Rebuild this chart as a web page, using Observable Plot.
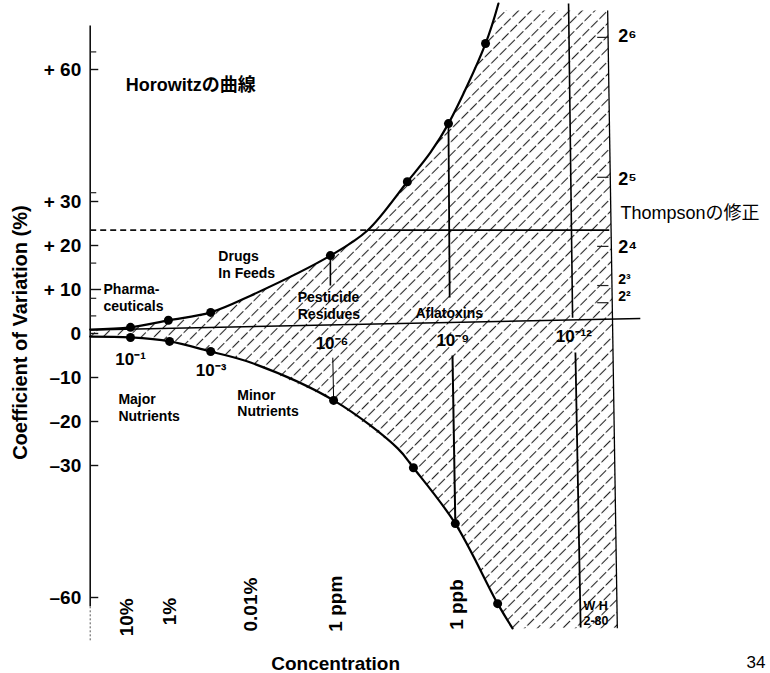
<!DOCTYPE html>
<html>
<head>
<meta charset="utf-8">
<script src="https://cdn.jsdelivr.net/npm/d3@7"></script>
<script src="https://cdn.jsdelivr.net/npm/@observablehq/plot@0.6"></script>
<style>
  html, body { margin: 0; padding: 0; background: #fff; }
  svg { display: block; }
</style>
</head>
<body>
<div id="chart"></div>
<script>
// ---- Data (x = exponent n of concentration 10^-n, y = coefficient of variation %) ----
const upperExp = [0, 1.0, 1.94, 2.99, 3.98, 5.96, 6.88, 7.87, 8.44, 8.89, 9.81, 10.13];
const upperCV  = [0.9, 1.4, 3.0, 4.8, 8.6, 17.7, 23.4, 34.5, 41.1, 47.7, 65.9, 75];
const upperIsDot = [0, 1, 1, 1, 0, 1, 0, 1, 0, 1, 1, 0];

const lowerExp = [0, 1.0, 1.97, 2.99, 3.98, 6.04, 7.63, 8.02, 9.06, 10.11, 10.48];
const lowerCV  = [-0.7, -0.9, -1.8, -4.1, -6.6, -15.2, -26.1, -30.5, -43.2, -61.4, -67.0];
const lowerIsDot = [0, 1, 1, 1, 0, 1, 0, 1, 1, 1, 0];

const thompsonCV = 23.5;          // Thompson's modification level
const thompsonStartExp = 6.88;    // where it meets the Horwitz curve
const boundaryExp = [12.84, 13.08]; // right limit (top, bottom)
const boundaryCV = [73.4, -67.0];
const baselineExp = [0, 13.65];
const baselineCV = [0.8, 3.4];

const yTickValues = [60, 30, 20, 10, 0, -10, -20, -30, -60];
const yTickLabels = ["+ 60", "+ 30", "+ 20", "+ 10", "0", "–10", "–20", "–30", "–60"];
const yMinorTicks = [64, 32, 16, 8, 4];

const xTickExp = [1, 3, 6, 9, 12];
const xTickLabels = ["10⁻¹", "10⁻³", "10⁻⁶", "10⁻⁹", "10⁻¹²"];
const xTickLabelCV = [-5.9, -8.4, -2.3, -1.6, -0.7];

const concExp = [0.9, 1.99, 4.0, 6.09, 9.09];
const concLabels = ["10%", "1%", "0.01%", "1 ppm", "1 ppb"];
const concLabelCV = [-64.5, -63.2, -61.6, -61.4, -61.6];

const rightTickCV = [67.3, 35.5, 19.8, 10.9, 7.0];
const rightLabelCV = [67.5, 35.0, 19.5, 12.3, 8.4];
const rightLabels = ["2⁶", "2⁵", "2⁴", "2³", "2²"];

const categories = [
  {text: "Pharma-\nceuticals", e: 0.33, cv: 8.2},
  {text: "Drugs\nIn Feeds", e: 3.18, cv: 15.8},
  {text: "Pesticide\nResidues", e: 5.15, cv: 6.4},
  {text: "Aflatoxins", e: 8.07, cv: 4.8},
  {text: "Major\nNutrients", e: 0.70, cv: -16.8},
  {text: "Minor\nNutrients", e: 3.65, cv: -15.7}
];

// ---- Build tables ----
const upper = upperExp.map((e, i) => ({e, cv: upperCV[i], dot: upperIsDot[i]}));
const lower = lowerExp.map((e, i) => ({e, cv: lowerCV[i], dot: lowerIsDot[i]}));
const hatchPoly = [
  ...upper.slice(0, -1),
  {e: 10.10, cv: boundaryCV[0]},
  {e: boundaryExp[0], cv: boundaryCV[0]},
  {e: boundaryExp[1], cv: boundaryCV[1]},
  ...lower.slice().reverse()
];

const upperAt = e => upper.find(d => d.e === e);
const lowerAt = e => lower.find(d => d.e === e);

const segments = [
  {x1: 5.96, y1: upperAt(5.96).cv, x2: 5.96, y2: 10.9, w: 1.6},
  {x1: 6.02, y1: -5.5, x2: 6.04, y2: lowerAt(6.04).cv, w: 1},
  {x1: 8.89, y1: upperAt(8.89).cv, x2: 8.92, y2: 8.2, w: 1.8},
  {x1: 8.99, y1: -5.0, x2: 9.06, y2: lowerAt(9.06).cv, w: 2},
  {x1: 11.87, y1: 75, x2: 11.97, y2: 3.6, w: 1.6},
  {x1: 12.04, y1: -4.3, x2: 12.17, y2: -66.8, w: 1.8},
  {x1: boundaryExp[0], y1: boundaryCV[0], x2: boundaryExp[1], y2: boundaryCV[1], w: 1.3},
  {x1: thompsonStartExp, y1: thompsonCV, x2: 12.88, y2: thompsonCV, w: 1.8},
  {x1: baselineExp[0], y1: baselineCV[0], x2: baselineExp[1], y2: baselineCV[1], w: 1.5}
];

const latin = "'Liberation Sans', Arial, 'Noto Sans CJK JP', sans-serif";

const chart = Plot.plot({
  width: 770,
  height: 673,
  marginLeft: 89.7,
  marginRight: 770 - 89.7 - 40.3 * 13.2,
  marginTop: 3,
  marginBottom: 32,
  x: {domain: [0, 13.2], axis: null},
  y: {domain: [-70, 75], axis: null},
  style: {background: "#fff", color: "#000", fontFamily: latin, overflow: "visible"},
  marks: [
    // hatched region between the curves
    Plot.line(hatchPoly, {x: "e", y: "cv", fill: "url(#hatch)", stroke: "none"}),
    // left axis
    Plot.link([0], {x1: 0, x2: 0, y1: 70, y2: -62, stroke: "#111", strokeWidth: 1.6}),
    Plot.link([0], {x1: 0, x2: 0, y1: -62, y2: -70, stroke: "#555", strokeWidth: 1, strokeDasharray: "2 2"}),
    Plot.link(yTickValues, {x1: 0, x2: d => d === 10 ? 0.27 : 0.2, y1: d => d, y2: d => d, stroke: "#111", strokeWidth: 1.4}),
    Plot.link(yMinorTicks, {x1: 0, x2: 0.15, y1: d => d, y2: d => d, stroke: "#222", strokeWidth: 1.2}),
    Plot.text(yTickValues, {x: 0, y: d => d, text: (d, i) => yTickLabels[i], dx: -9, textAnchor: "end",
      fontSize: 19, fontWeight: "bold"}),
    // Thompson dashed part
    Plot.link([0], {x1: 0, x2: thompsonStartExp, y1: thompsonCV, y2: thompsonCV, stroke: "#111",
      strokeWidth: 1.6, strokeDasharray: "6 4"}),
    // straight segments
    Plot.link(segments, {x1: "x1", y1: "y1", x2: "x2", y2: "y2", stroke: "#000", strokeWidth: "w"}),
    // right-side ticks
    Plot.link(rightTickCV, {x1: 12.58, x2: 12.86, y1: d => d, y2: d => d, stroke: "#222", strokeWidth: 1.2}),
    // Horwitz curves
    Plot.line(upper, {x: "e", y: "cv", curve: "catmull-rom", stroke: "#000", strokeWidth: 2.2}),
    Plot.line(lower, {x: "e", y: "cv", curve: "catmull-rom", stroke: "#000", strokeWidth: 2.2}),
    Plot.dot(upper.filter(d => d.dot), {x: "e", y: "cv", r: 4.5, fill: "#000"}),
    Plot.dot(lower.filter(d => d.dot), {x: "e", y: "cv", r: 4.5, fill: "#000"}),
    // concentration exponent labels
    Plot.text(xTickExp, {x: d => d, y: (d, i) => xTickLabelCV[i], text: (d, i) => xTickLabels[i],
      fontSize: 17, fontWeight: "bold"}),
    // category labels
    Plot.text(categories, {x: "e", y: "cv", text: "text", textAnchor: "start", lineHeight: 1.2,
      fontSize: 14, fontWeight: "bold"}),
    // vertical concentration labels
    Plot.text(concExp, {x: d => d, y: (d, i) => concLabelCV[i], text: (d, i) => concLabels[i],
      rotate: -90, fontSize: 19, fontWeight: "bold"}),
    // right labels
    Plot.text(rightLabelCV, {x: 13.1, y: d => d, text: (d, i) => rightLabels[i], textAnchor: "start",
      fontSize: (d, i) => i >= 3 ? 14 : 18, fontWeight: "bold"}),
    Plot.text(["W H\n2-80"], {x: 12.24, y: -63.4, textAnchor: "start", fontSize: 12.5, fontWeight: "bold", lineHeight: 1.2}),
    // titles and annotations
    Plot.text(["Horowitzの曲線"], {x: 0.88, y: 56.4, textAnchor: "start", fontSize: 18, fontWeight: "bold"}),
    Plot.text(["Thompsonの修正"], {x: 13.16, y: 27.3, textAnchor: "start", fontSize: 18}),
    Plot.text(["Coefficient of Variation (%)"], {x: -1.73, y: 0.2, rotate: -90, fontSize: 20, fontWeight: "bold"}),
    Plot.text(["Concentration"], {x: 6.09, y: -75, fontSize: 19, fontWeight: "bold"}),
    Plot.text(["34"], {x: 16.52, y: -74.7, fontSize: 17})
  ]
});

const ns = "http://www.w3.org/2000/svg";
const defs = document.createElementNS(ns, "defs");
const pattern = document.createElementNS(ns, "pattern");
pattern.setAttribute("id", "hatch");
pattern.setAttribute("patternUnits", "userSpaceOnUse");
pattern.setAttribute("width", "9");
pattern.setAttribute("height", "12");
pattern.setAttribute("patternTransform", "rotate(45)");
const hl = document.createElementNS(ns, "line");
hl.setAttribute("x1", "4.5"); hl.setAttribute("y1", "0");
hl.setAttribute("x2", "4.5"); hl.setAttribute("y2", "12");
hl.setAttribute("stroke", "#222");
hl.setAttribute("stroke-width", "1.1");
hl.setAttribute("stroke-dasharray", "9.5 2.5");
pattern.appendChild(hl);
defs.appendChild(pattern);
chart.insertBefore(defs, chart.firstChild);

document.getElementById("chart").appendChild(chart);
</script>
</body>
</html>
